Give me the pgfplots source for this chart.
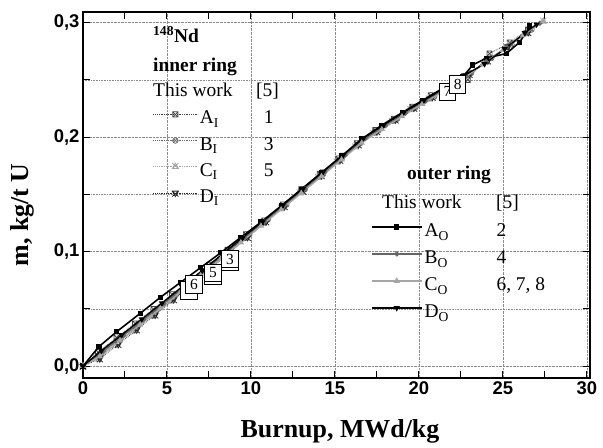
\documentclass[border=0pt]{standalone}
\usepackage{fontspec}
\setmainfont{Liberation Serif}
\setsansfont{Liberation Sans}
\usepackage{pgfplots}
\pgfplotsset{compat=1.18}

% square with a cross
\pgfdeclareplotmark{sqx}{%
  \pgfpathrectangle{\pgfpoint{-\pgfplotmarksize}{-\pgfplotmarksize}}{\pgfpoint{2\pgfplotmarksize}{2\pgfplotmarksize}}%
  \pgfpathmoveto{\pgfpoint{-\pgfplotmarksize}{-\pgfplotmarksize}}\pgfpathlineto{\pgfpoint{\pgfplotmarksize}{\pgfplotmarksize}}%
  \pgfpathmoveto{\pgfpoint{-\pgfplotmarksize}{\pgfplotmarksize}}\pgfpathlineto{\pgfpoint{\pgfplotmarksize}{-\pgfplotmarksize}}%
  \pgfusepathqstroke}
% triangle with a cross
\pgfdeclareplotmark{trix}{%
  \pgfpathmoveto{\pgfpoint{0pt}{\pgfplotmarksize}}%
  \pgfpathlineto{\pgfpoint{-0.866\pgfplotmarksize}{-0.5\pgfplotmarksize}}%
  \pgfpathlineto{\pgfpoint{0.866\pgfplotmarksize}{-0.5\pgfplotmarksize}}\pgfpathclose
  \pgfpathmoveto{\pgfpoint{-0.866\pgfplotmarksize}{\pgfplotmarksize}}\pgfpathlineto{\pgfpoint{0.866\pgfplotmarksize}{-0.5\pgfplotmarksize}}%
  \pgfpathmoveto{\pgfpoint{0.866\pgfplotmarksize}{\pgfplotmarksize}}\pgfpathlineto{\pgfpoint{-0.866\pgfplotmarksize}{-0.5\pgfplotmarksize}}%
  \pgfusepathqstroke}
\pgfdeclareplotmark{tridx}{%
  \pgfpathmoveto{\pgfpoint{0pt}{-\pgfplotmarksize}}%
  \pgfpathlineto{\pgfpoint{-0.866\pgfplotmarksize}{0.5\pgfplotmarksize}}%
  \pgfpathlineto{\pgfpoint{0.866\pgfplotmarksize}{0.5\pgfplotmarksize}}\pgfpathclose
  \pgfpathmoveto{\pgfpoint{-0.866\pgfplotmarksize}{-\pgfplotmarksize}}\pgfpathlineto{\pgfpoint{0.866\pgfplotmarksize}{0.5\pgfplotmarksize}}%
  \pgfpathmoveto{\pgfpoint{0.866\pgfplotmarksize}{-\pgfplotmarksize}}\pgfpathlineto{\pgfpoint{-0.866\pgfplotmarksize}{0.5\pgfplotmarksize}}%
  \pgfusepathqstroke}

\newcommand\ient[3]{\rule[-7bp]{0pt}{27.7bp}\makebox[64bp][l]{#1\textsubscript{#2}}#3}
\newcommand\oent[3]{\rule[-7bp]{0pt}{28.5bp}\makebox[72bp][l]{#1\textsubscript{#2}}#3}

\pgfplotsset{
  frame/.style={
    scale only axis, width=507bp, height=366bp,
    xmin=0, xmax=30.18, ymin=-0.0104, ymax=0.3093,
  },
}

\begin{document}
\begin{tikzpicture}
\useasboundingbox (-83bp,-70bp) rectangle (520bp,378bp);
\begin{axis}[
    frame,
    xtick={0,5,...,30},
    ytick={0,0.1,0.2,0.3},
    minor x tick num=1,
    minor y tick num=1,
    tick align=inside,
    major tick length=7bp, minor tick length=7bp,
    tick style={black, line width=1bp},
    axis line style={line width=1.6bp},
    xmajorgrids, ymajorgrids, yminorgrids,
    grid style={densely dotted, black!45, line width=0.6bp},
    minor grid style={densely dotted, black!45, line width=0.6bp},
    ticklabel style={font=\fontsize{18.5}{20}\selectfont\sffamily\bfseries},
    /pgf/number format/assume math mode=true,
    y tick label style={/pgf/number format/.cd, fixed, fixed zerofill, precision=1, use comma},
    xlabel={Burnup, MWd/kg},
    ylabel={m, kg/t U},
    label style={font=\fontsize{26}{30}\selectfont\bfseries},
    xlabel style={at={(axis description cs:0.5069,-0.1639)}, anchor=base},
    ylabel style={at={(axis description cs:-0.1203,0.4454)}, anchor=center},
    legend style={
        at={(axis description cs:0.138,0.756)}, anchor=north west,
        draw=none, fill=none, inner sep=0pt, outer sep=0pt,
        font=\fontsize{19.5}{22}\selectfont,
        row sep=0pt,
    },
    legend cell align=left,
    legend image code/.code={\draw[mark repeat=2,mark phase=2,#1] plot coordinates {(0bp,0bp) (22bp,0bp) (44bp,0bp)};},
]
% inner ring, this work
\addplot[densely dotted, line width=0.8bp, black!75, mark=sqx, mark size=2.6bp, mark options={solid, line width=0.7bp}]
coordinates {
(0,0) (0.9,0.0120) (2.0,0.0250) (3.1,0.0372) (4.2,0.0498) (5.3,0.0626) (6.4,0.0755)
(7.5,0.0880) (8.6,0.1015) (9.7,0.1150) (10.8,0.1272) (11.9,0.1410) (13.0,0.1545)
(14.1,0.1680) (15.2,0.1812) (16.3,0.1945) (17.4,0.2062) (18.5,0.2160) (19.6,0.2265)
(20.7,0.2365) (21.8,0.2435) (22.9,0.2500) (24.2,0.2730) (25.4,0.2825) (26.5,0.2940)
};
\addlegendentry{\ient{A}{I}{1}}
\addplot[densely dotted, line width=0.8bp, black!60, mark=otimes, mark size=2.8bp, mark options={solid, line width=0.7bp}]
coordinates {
(0,0) (1.1,0.0110) (2.2,0.0236) (3.3,0.0362) (4.4,0.0493) (5.5,0.0622) (6.6,0.0755)
(7.7,0.0886) (8.8,0.1018) (9.9,0.1150) (11.0,0.1280) (12.1,0.1410) (13.2,0.1545)
(14.3,0.1678) (15.4,0.1812) (16.5,0.1948) (17.6,0.2060) (18.7,0.2160) (19.8,0.2262)
(20.9,0.2352) (22.0,0.2452) (23.1,0.2560) (24.3,0.2690) (25.5,0.2810) (26.7,0.2940)
};
\addlegendentry{\ient{B}{I}{3}}
\addplot[densely dotted, line width=0.8bp, black!35, mark=trix, mark size=3.6bp, mark options={solid, line width=0.8bp}]
coordinates {
(0,0) (0.8,0.0060) (1.9,0.0180) (3.0,0.0305) (4.1,0.0432) (5.2,0.0565) (6.3,0.0700)
(7.4,0.0840) (8.5,0.0975) (9.6,0.1110) (10.7,0.1245) (11.8,0.1378) (12.9,0.1510)
(14.0,0.1645) (15.1,0.1780) (16.2,0.1912) (17.3,0.2030) (18.4,0.2135) (19.5,0.2238)
(20.6,0.2330) (21.7,0.2428) (22.8,0.2530) (24.0,0.2655) (25.2,0.2780) (26.4,0.2905) (27.4,0.3010)
};
\addlegendentry{\ient{C}{I}{5}}
\addplot[densely dotted, line width=0.8bp, black!85, mark=tridx, mark size=3.6bp, mark options={solid, line width=0.8bp}]
coordinates {
(0,0) (1.0,0.0065) (2.1,0.0190) (3.2,0.0318) (4.3,0.0448) (5.4,0.0582) (6.5,0.0715)
(7.6,0.0852) (8.7,0.0990) (9.8,0.1125) (10.9,0.1262) (12.0,0.1395) (13.1,0.1530)
(14.2,0.1665) (15.3,0.1800) (16.4,0.1935) (17.5,0.2050) (18.6,0.2152) (19.7,0.2255)
(20.8,0.2350) (21.9,0.2445) (23.0,0.2550) (24.1,0.2668) (25.3,0.2790) (26.5,0.2915)
};
\addlegendentry{\ient{D}{I}{}}
\end{axis}

\begin{axis}[
    frame, hide axis,
    legend style={
        at={(axis description cs:0.568,0.4495)}, anchor=north west,
        draw=none, fill=none, inner sep=0pt, outer sep=0pt,
        font=\fontsize{19.5}{22}\selectfont,
        row sep=0pt,
    },
    legend cell align=left,
    legend image code/.code={\draw[mark repeat=2,mark phase=2,#1] plot coordinates {(0bp,0bp) (25bp,0bp) (50bp,0bp)};},
]
% outer ring, this work
\addplot[black, line width=1.6bp, mark=square*, mark size=1.8bp]
coordinates {
(0,0) (0.95,0.0170) (2.0,0.0300) (3.4,0.0460) (4.6,0.0600) (5.8,0.0730) (7.0,0.0860)
(8.2,0.0990) (9.4,0.1125) (10.6,0.1258) (11.8,0.1400) (13.0,0.1545) (14.2,0.1690)
(15.4,0.1835) (16.6,0.1985) (17.8,0.2105) (19.0,0.2215) (20.2,0.2320) (21.4,0.2425)
(22.6,0.2525) (23.2,0.2630) (24.0,0.2690) (25.2,0.2730) (26.0,0.2830) (26.6,0.2970)
};
\addlegendentry{\oent{A}{O}{2}}
\addplot[black!60, line width=1.4bp, mark=*, mark size=1.8bp]
coordinates {
(0,0) (1.2,0.0130) (2.4,0.0268) (3.6,0.0405) (4.8,0.0545) (6.0,0.0690) (7.2,0.0835)
(8.4,0.0978) (9.6,0.1120) (10.8,0.1265) (12.0,0.1405) (13.2,0.1550) (14.4,0.1695)
(15.6,0.1842) (16.8,0.1990) (18.0,0.2100) (19.2,0.2210) (20.4,0.2315) (21.6,0.2420)
(22.8,0.2530) (24.0,0.2660) (25.2,0.2785) (26.4,0.2910) (27.2,0.2995)
};
\addlegendentry{\oent{B}{O}{4}}
\addplot[black!35, line width=1.4bp, mark=triangle*, mark size=2.3bp]
coordinates {
(0,0) (1.0,0.0085) (2.2,0.0222) (3.4,0.0362) (4.6,0.0502) (5.8,0.0645) (7.0,0.0790)
(8.2,0.0935) (9.4,0.1080) (10.6,0.1225) (11.8,0.1368) (13.0,0.1512) (14.2,0.1658)
(15.4,0.1805) (16.6,0.1950) (17.8,0.2070) (19.0,0.2182) (20.2,0.2290) (21.4,0.2395)
(22.6,0.2505) (23.8,0.2635) (25.0,0.2760) (26.2,0.2890) (27.4,0.3015)
};
\addlegendentry{\oent{C}{O}{6, 7, 8}}
\addplot[black, line width=1.4bp, mark=triangle*, mark size=2.3bp, mark options={rotate=180}]
coordinates {
(0,0) (1.1,0.0135) (2.3,0.0272) (3.5,0.0410) (4.7,0.0550) (5.9,0.0692) (7.1,0.0835)
(8.3,0.0978) (9.5,0.1122) (10.7,0.1265) (11.9,0.1408) (13.1,0.1552) (14.3,0.1700)
(15.5,0.1846) (16.7,0.1992) (17.9,0.2106) (19.1,0.2218) (20.3,0.2322) (21.5,0.2428)
(22.7,0.2540) (23.9,0.2640) (25.1,0.2770) (26.3,0.2910) (27.0,0.2985)
};
\addlegendentry{\oent{D}{O}{}}
% reference [5] points, labelled boxes (the ones hidden behind others carry no visible number)
\addplot[only marks, mark=*, mark size=0.2bp, white, forget plot,
    point meta=explicit symbolic, nodes near coords,
    nodes near coords style={anchor=center, draw=black, fill=white, text=black,
        line width=0.9bp, inner sep=0pt, minimum width=16.5bp, minimum height=17.5bp,
        font=\fontsize{15.5}{15.5}\selectfont}]
table[meta=label] {
x y label
7.74 0.0790 {}
6.31 0.0662 {}
6.61 0.0713 6
7.74 0.0815 5
8.75 0.0908 {}
8.75 0.0935 3
21.70 0.2396 7
22.30 0.2460 8
};
\end{axis}
\node[anchor=base west, inner sep=0pt, font=\fontsize{19.5}{22}\selectfont\bfseries] at (70bp,335bp) {\textsuperscript{148}Nd};
\node[anchor=base west, inner sep=0pt, font=\fontsize{19.5}{22}\selectfont\bfseries] at (70bp,306bp) {inner ring};
\node[anchor=base west, inner sep=0pt, font=\fontsize{19.5}{22}\selectfont] at (70bp,281bp) {This work};
\node[anchor=base west, inner sep=0pt, font=\fontsize{19.5}{22}\selectfont] at (173bp,281bp) {[5]};
\node[anchor=base west, inner sep=0pt, font=\fontsize{19.5}{22}\selectfont\bfseries] at (324bp,198bp) {outer ring};
\node[anchor=base west, inner sep=0pt, font=\fontsize{19.5}{22}\selectfont] at (299bp,169bp) {This work};
\node[anchor=base west, inner sep=0pt, font=\fontsize{19.5}{22}\selectfont] at (413bp,169bp) {[5]};
\end{tikzpicture}
\end{document}
